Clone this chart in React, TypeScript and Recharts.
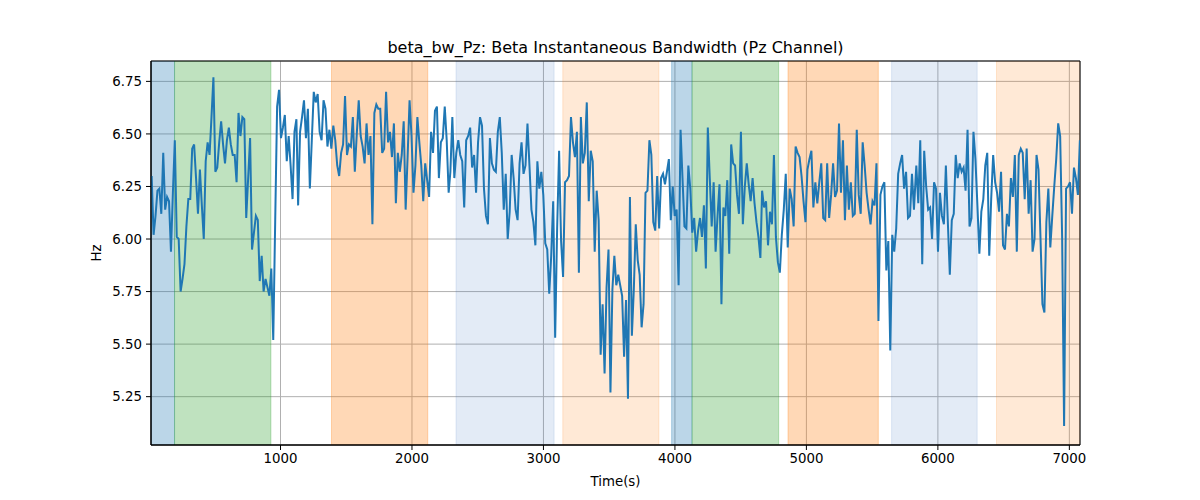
import React from 'react';
import { LineChart, Line, XAxis, YAxis, CartesianGrid, ReferenceArea } from 'recharts';

// Sample times (seconds): each segment spans [start, end] with its samples evenly spread
const segStarts = [20, 1134, 2292, 3480, 4663, 5836];
const segEnds = [1121, 2279, 3465, 4650, 5818, 7080];

// Hz values, segment by segment
const seg1 = [
  6.30, 6.02, 6.11, 6.23, 6.24, 6.12, 6.41, 6.14, 6.20, 6.18,
  5.94, 6.22, 6.47, 6.01, 6.00, 5.75, 5.81, 5.88, 6.06, 6.19,
  6.19, 6.43, 6.45, 6.29, 6.12, 6.33, 6.16, 6.00, 6.37, 6.46,
  6.40, 6.58, 6.77, 6.32, 6.34, 6.46, 6.56, 6.45, 6.36, 6.47,
  6.53, 6.45, 6.40, 6.40, 6.27, 6.60, 6.49, 6.58, 6.57, 6.10,
  6.29, 6.48, 5.95, 6.03, 6.11, 6.09, 5.80, 5.92, 5.75, 5.81,
  5.77, 5.73, 5.86, 5.52, 6.08, 6.63, 6.71, 6.48, 6.53, 6.59,
  6.37, 6.49, 6.35, 6.19, 6.51, 6.57,
];
const seg2 = [
  6.16, 6.51, 6.58, 6.66, 6.48, 6.62, 6.24, 6.47, 6.70, 6.65,
  6.69, 6.51, 6.47, 6.66, 6.62, 6.44, 6.52, 6.43, 6.54, 6.47,
  6.35, 6.30, 6.41, 6.45, 6.68, 6.40, 6.45, 6.44, 6.58, 6.32,
  6.50, 6.66, 6.49, 6.44, 6.36, 6.55, 6.40, 6.49, 6.07, 6.60,
  6.64, 6.62, 6.62, 6.41, 6.43, 6.70, 6.46, 6.51, 6.39, 6.55,
  6.17, 6.41, 6.32, 6.40, 6.56, 6.14, 6.39, 6.66, 6.49, 6.22,
  6.35, 6.58, 6.46, 6.35, 6.18, 6.36, 6.28, 6.20, 6.51, 6.41,
  6.61, 6.63, 6.29, 6.46, 6.48, 6.63, 6.47, 6.22,
];
const seg3 = [
  6.32, 6.58, 6.29, 6.41, 6.47, 6.40, 6.37, 6.15, 6.47, 6.49,
  6.53, 6.34, 6.40, 6.22, 6.46, 6.58, 6.54, 6.24, 6.11, 6.07,
  6.48, 6.36, 6.33, 6.32, 6.51, 6.58, 6.41, 6.14, 6.31, 6.00,
  6.13, 6.40, 6.29, 6.14, 6.09, 6.36, 6.46, 6.31, 6.35, 6.55,
  6.35, 6.14, 6.08, 5.97, 6.37, 6.24, 6.32, 6.21, 5.98, 5.95,
  5.74, 5.92, 6.18, 5.53, 6.05, 6.42, 5.99, 5.82, 6.27, 6.28,
  6.30, 6.58, 6.46, 6.39, 6.51, 5.84, 6.58, 6.36, 6.41, 6.65,
  6.18, 6.42, 6.37, 5.94, 6.23, 6.09, 5.45, 5.69, 5.36,
];
const seg4 = [
  5.77, 5.95, 5.27, 5.76, 5.92, 5.78, 5.83, 5.78, 5.73, 5.44,
  5.71, 5.24, 6.20, 5.54, 5.76, 6.07, 5.90, 5.83, 5.58, 5.69,
  6.22, 6.23, 6.47, 6.40, 6.08, 6.04, 6.30, 6.05, 6.29, 6.31,
  6.26, 6.32, 6.38, 6.09, 6.25, 6.11, 6.14, 5.78, 6.52, 6.29,
  6.06, 6.05, 6.35, 6.24, 6.03, 6.10, 5.94, 6.04, 6.10, 6.01,
  6.16, 5.86, 6.53, 6.29, 6.06, 6.27, 5.94, 6.11, 6.26, 5.69,
  6.15, 6.11, 6.28, 5.93, 6.45, 6.36, 6.35, 6.21, 6.12, 6.51,
  6.07, 6.25, 6.36, 6.26, 6.18, 6.29, 6.17, 6.08, 6.01, 5.91,
];
const seg5 = [
  6.23, 6.15, 6.18, 5.97, 6.13, 6.07, 6.40, 6.01, 5.89, 5.84,
  6.02, 6.14, 6.31, 5.96, 6.24, 6.19, 6.06, 6.44, 6.41, 6.39,
  6.30, 6.18, 6.08, 6.33, 6.38, 6.42, 6.15, 6.27, 6.17, 6.27,
  6.36, 6.10, 6.09, 6.36, 6.10, 6.21, 6.36, 6.20, 6.23, 6.55,
  6.22, 6.47, 6.09, 6.35, 6.14, 6.27, 6.11, 6.12, 6.52, 6.21,
  6.12, 6.46, 6.35, 6.22, 6.14, 6.07, 6.18, 6.16, 6.36, 5.61,
  6.21, 6.25, 6.27, 5.85, 5.99, 5.47, 6.02, 5.94, 6.05, 6.31,
  6.36, 6.40, 6.24, 6.32, 6.10, 6.11, 6.31, 6.14,
];
const seg6 = [
  6.35, 6.17, 6.47, 5.88, 6.42, 6.25, 6.14, 6.15, 6.00, 6.27,
  6.24, 5.94, 6.22, 6.11, 6.07, 6.35, 6.08, 5.83, 6.09, 6.12,
  6.40, 6.29, 6.36, 6.32, 6.34, 6.23, 6.52, 6.06, 6.10, 6.51,
  6.38, 6.16, 5.93, 6.13, 6.19, 6.35, 6.41, 5.92, 6.19, 6.40,
  6.27, 6.22, 6.13, 6.32, 5.97, 5.95, 6.12, 6.06, 6.29, 6.20,
  6.40, 5.94, 6.40, 6.43, 6.41, 6.19, 6.43, 6.12, 6.28, 5.94,
  6.00, 6.40, 6.33, 6.01, 5.69, 5.65, 6.08, 6.24, 5.96, 6.11,
  6.25, 6.38, 6.55, 6.49, 6.01, 5.11, 6.24, 6.25, 6.27, 6.12,
  6.34, 6.29, 6.21, 6.47,
];
const segments = [seg1, seg2, seg3, seg4, seg5, seg6];

// Shaded epochs (seconds) and their kind
const bandStarts = [15, 194, 1388, 2335, 3147, 3975, 4130, 4860, 5648, 6446];
const bandEnds = [194, 927, 2120, 3081, 3878, 4130, 4789, 5547, 6299, 7081];
const bandKinds = ['blue', 'green', 'orange', 'lightblue', 'lightorange', 'blue', 'green', 'orange', 'lightblue', 'lightorange'];

const xTicks = [1000, 2000, 3000, 4000, 5000, 6000, 7000];
const yTicks = [5.25, 5.5, 5.75, 6.0, 6.25, 6.5, 6.75];
const xDomain = [15, 7081];
const yDomain = [5.02, 6.847];

const titleText = 'beta_bw_Pz: Beta Instantaneous Bandwidth (Pz Channel)';
const xLabelText = 'Time(s)';
const yLabelText = 'Hz';

const bandStyle: Record<string, { color: string; opacity: number }> = {
  blue: { color: '#1f77b4', opacity: 0.3 },
  green: { color: '#2ca02c', opacity: 0.3 },
  orange: { color: '#ff7f0e', opacity: 0.3 },
  lightblue: { color: '#3b74c0', opacity: 0.14 },
  lightorange: { color: '#ff7f0e', opacity: 0.17 },
};

const data: { t: number; hz: number }[] = [];
segments.forEach((vals, s) => {
  const n = vals.length;
  vals.forEach((v, i) => {
    const t = segStarts[s] + (i * (segEnds[s] - segStarts[s])) / (n - 1);
    data.push({ t, hz: v });
  });
});

const FONT = 'DejaVu Sans, sans-serif';
const tickStyle = { fill: '#000', fontSize: 13.33, fontFamily: FONT };

export default function App() {
  return (
    <div style={{ position: 'absolute', left: 0, top: 0, width: 1200, height: 500, background: '#fff' }}>
      <LineChart
        width={1200}
        height={500}
        data={data}
        margin={{ top: 61, right: 120, bottom: 0, left: 0 }}
      >
        {bandStarts.map((b, i) => {
          const st = bandStyle[bandKinds[i]];
          return (
            <ReferenceArea
              key={'band' + i}
              x1={b}
              x2={bandEnds[i]}
              fill={st.color}
              fillOpacity={st.opacity}
              stroke={st.color}
              strokeOpacity={st.opacity}
              strokeWidth={1}
              ifOverflow="hidden"
            />
          );
        })}
        <CartesianGrid stroke="#b0b0b0" strokeWidth={1} />
        <XAxis
          type="number"
          dataKey="t"
          domain={xDomain}
          ticks={xTicks}
          interval={0}
          allowDataOverflow
          height={55}
          tickSize={5}
          tickMargin={4}
          tick={tickStyle}
          axisLine={{ stroke: '#000', strokeWidth: 1 }}
          tickLine={{ stroke: '#000', strokeWidth: 1 }}
        />
        <YAxis
          type="number"
          domain={yDomain}
          ticks={yTicks}
          interval={0}
          allowDataOverflow
          width={151}
          tickSize={5}
          tickMargin={4}
          tick={tickStyle}
          tickFormatter={(v: number) => v.toFixed(2)}
          axisLine={{ stroke: '#000', strokeWidth: 1 }}
          tickLine={{ stroke: '#000', strokeWidth: 1 }}
        />
        <Line
          type="linear"
          dataKey="hz"
          stroke="#1f77b4"
          strokeWidth={2}
          dot={false}
          isAnimationActive={false}
        />
        <ReferenceArea
          x1={xDomain[0]}
          x2={xDomain[1]}
          y1={yDomain[0]}
          y2={yDomain[1]}
          fill="none"
          stroke="#000"
          strokeWidth={1}
          ifOverflow="visible"
        />
      </LineChart>
      <svg
        width={1200}
        height={500}
        style={{ position: 'absolute', left: 0, top: 0, pointerEvents: 'none' }}
      >
        <text x={615.5} y={52.5} textAnchor="middle" fontFamily={FONT} fontSize={16} fill="#000">
          {titleText}
        </text>
        <text x={615.5} y={486} textAnchor="middle" fontFamily={FONT} fontSize={13.33} fill="#000">
          {xLabelText}
        </text>
        <text
          x={101}
          y={253}
          textAnchor="middle"
          fontFamily={FONT}
          fontSize={13.33}
          fill="#000"
          transform="rotate(-90 101 253)"
        >
          {yLabelText}
        </text>
      </svg>
    </div>
  );
}
